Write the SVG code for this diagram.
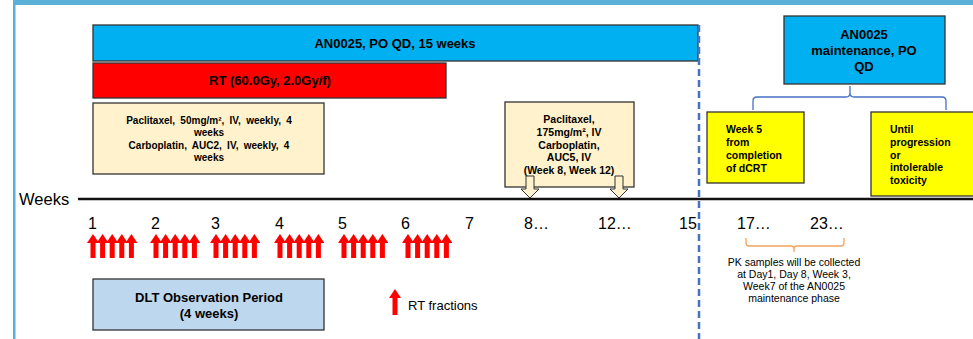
<svg xmlns="http://www.w3.org/2000/svg" width="973" height="339" viewBox="0 0 973 339">
<defs>
<style>
.b{font-family:"Liberation Sans",Arial,sans-serif;font-weight:bold;fill:#000}
.n{font-family:"Liberation Sans",Arial,sans-serif;fill:#000}
.box{stroke:#333;stroke-width:1.3}
.c{text-anchor:middle}
.ws{word-spacing:2.5px}
</style>
<path id="ra" d="M0,234 L6,243 L2.5,243 L2.5,258 L-2.5,258 L-2.5,243 L-6,243 Z" fill="#FF0000"/>
<g id="grp">
<use href="#ra" x="5"/><use href="#ra" x="14.6"/><use href="#ra" x="24.2"/><use href="#ra" x="33.8"/><use href="#ra" x="43.4"/>
</g>
<path id="ha" d="M-4,176 L4,176 L4,189 L9,189 L0,198 L-9,189 L-4,189 Z" fill="#FFF2CC" stroke="#333" stroke-width="1"/>
</defs>
<rect width="973" height="339" fill="#fff"/>
<rect x="13" y="0" width="960" height="5" fill="#5BB0D8"/>
<rect x="13" y="0" width="2.5" height="339" fill="#5BB0D8"/>

<g id="an0025-bar">
<rect class="box" x="93" y="25" width="605" height="36" fill="#00B0F0"/>
<text class="b c" x="395" y="48" font-size="13">AN0025, PO QD, 15 weeks</text>
</g>
<g id="rt-bar">
<rect class="box" x="93" y="63" width="353" height="35" fill="#FF0000"/>
<text class="b c" x="270" y="85" font-size="13">RT (60.0Gy, 2.0Gy/f)</text>
</g>
<g id="chemo1">
<rect class="box" x="93" y="103" width="231" height="71" fill="#FFF2CC"/>
<text class="b c ws" x="209" y="124" font-size="10">Paclitaxel, 50mg/m², IV, weekly, 4</text>
<text class="b c" x="209" y="136" font-size="10">weeks</text>
<text class="b c ws" x="209" y="149" font-size="10">Carboplatin, AUC2, IV, weekly, 4</text>
<text class="b c" x="209" y="161" font-size="10">weeks</text>
</g>
<g id="chemo2">
<rect class="box" x="505" y="102" width="129" height="85" fill="#FFF2CC"/>
<text class="b c" x="569" y="123" font-size="10.5">Paclitaxel,</text>
<text class="b c" x="569" y="136" font-size="10.5">175mg/m², IV</text>
<text class="b c" x="569" y="149" font-size="10.5">Carboplatin,</text>
<text class="b c" x="569" y="161" font-size="10.5">AUC5, IV</text>
<text class="b c" x="569" y="174" font-size="10.5">(Week 8, Week 12)</text>
<use href="#ha" x="530"/>
<use href="#ha" x="619"/>
</g>
<g id="maintenance">
<rect class="box" x="784" y="16" width="161" height="68" fill="#00B0F0"/>
<text class="b c" x="864" y="39" font-size="13">AN0025</text>
<text class="b c" x="864" y="55" font-size="13">maintenance, PO</text>
<text class="b c" x="864" y="71" font-size="13">QD</text>
</g>
<g id="week5">
<rect class="box" x="707" y="112" width="97" height="71" fill="#FFFF00"/>
<text class="b" x="726" y="133" font-size="10.5">Week  5</text>
<text class="b" x="726" y="146" font-size="10.5">from</text>
<text class="b" x="726" y="159" font-size="10.5">completion</text>
<text class="b" x="726" y="172" font-size="10.5">of dCRT</text>
</g>
<g id="until">
<rect class="box" x="871" y="112" width="110" height="84" fill="#FFFF00"/>
<text class="b" x="890" y="133" font-size="10.5">Until</text>
<text class="b" x="890" y="146" font-size="10.5">progression</text>
<text class="b" x="890" y="159" font-size="10.5">or</text>
<text class="b" x="890" y="171" font-size="10.5">intolerable</text>
<text class="b" x="890" y="184" font-size="10.5">toxicity</text>
</g>
<g id="dlt">
<rect class="box" x="93" y="279" width="231" height="51" fill="#BDD7EE"/>
<text class="b c" x="209" y="302" font-size="13">DLT Observation Period</text>
<text class="b c" x="209" y="318" font-size="13">(4 weeks)</text>
</g>

<g id="connectors" fill="none">
<line x1="78" y1="199" x2="973" y2="199" stroke="#111" stroke-width="2.5"/>
<line x1="699" y1="25" x2="699" y2="339" stroke="#4472C4" stroke-width="2.5" stroke-dasharray="7,4"/>
<path d="M753,110 L753,101 Q753,97 757,97 L846,97 Q850,97 850,93 L850,86 M850,93 Q850,97 854,97 L942,97 Q946,97 946,101 L946,110" stroke="#4472C4" stroke-width="1.3"/>
<path d="M746,238 L746,243 Q746,246 749,246 L791,246 Q794,246 794,249 L794,252 M794,249 Q794,246 797,246 L841,246 Q844,246 844,243 L844,238" stroke="#F4A460" stroke-width="1.3"/>
</g>

<g id="axis-labels">
<text class="n" x="19" y="205" font-size="16.5">Weeks</text>
<text class="n" x="88" y="229" font-size="16">1</text>
<text class="n" x="151" y="229" font-size="16">2</text>
<text class="n" x="211" y="229" font-size="16">3</text>
<text class="n" x="275" y="229" font-size="16">4</text>
<text class="n" x="338" y="229" font-size="16">5</text>
<text class="n" x="401" y="229" font-size="16">6</text>
<text class="n" x="465" y="229" font-size="16">7</text>
<text class="n" x="524" y="229" font-size="16">8…</text>
<text class="n" x="598" y="229" font-size="16">12…</text>
<text class="n" x="679" y="229" font-size="16">15</text>
<text class="n" x="737" y="229" font-size="16">17…</text>
<text class="n" x="810" y="229" font-size="16">23…</text>
</g>

<g id="rt-fractions">
<use href="#grp" x="88"/>
<use href="#grp" x="151"/>
<use href="#grp" x="211"/>
<use href="#grp" x="275"/>
<use href="#grp" x="339"/>
<use href="#grp" x="403"/>
</g>

<g id="legend">
<path d="M395,289 L401,298 L397.5,298 L397.5,315 L392.5,315 L392.5,298 L389,298 Z" fill="#FF0000"/>
<text class="n" x="408" y="310" font-size="13">RT fractions</text>
</g>

<g id="pk-note">
<text class="n c" x="794" y="266" font-size="10.5" fill="#222">PK samples will be collected</text>
<text class="n c" x="794" y="278" font-size="10.5" fill="#222">at Day1, Day 8, Week 3,</text>
<text class="n c" x="794" y="290" font-size="10.5" fill="#222">Week7 of the AN0025</text>
<text class="n c" x="794" y="302" font-size="10.5" fill="#222">maintenance phase</text>
</g>
</svg>
